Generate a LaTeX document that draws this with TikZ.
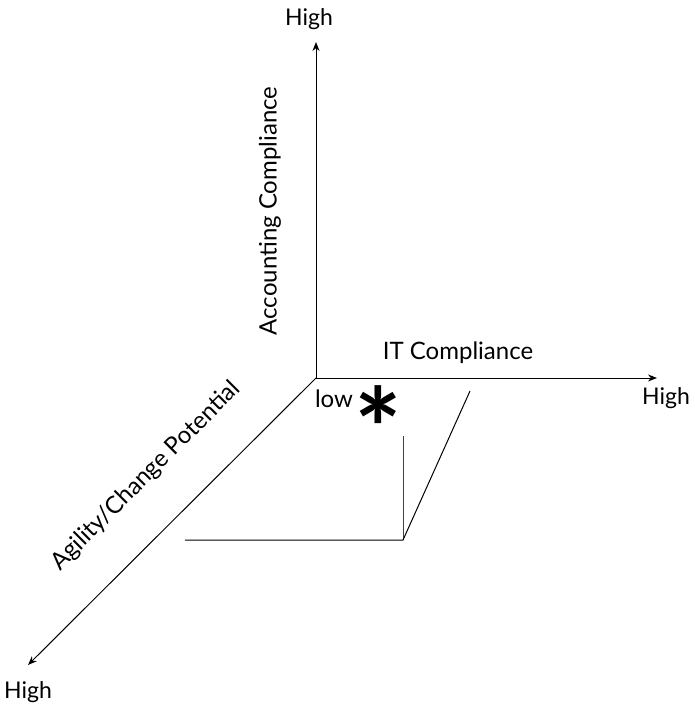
\documentclass[tikz,border=0pt]{standalone}
\usepackage{fontspec}
\setmainfont{Lato}
\usetikzlibrary{arrows.meta}
\begin{document}
\begin{tikzpicture}[x=1pt,y=-1pt,
  axis/.style={line width=1pt,-{Stealth[length=9pt,width=7pt]}},
  lbl/.style={font=\fontsize{24}{28}\selectfont,inner sep=0pt},
  endlbl/.style={font=\fontsize{23}{27}\selectfont,inner sep=0pt},
  guide/.style={line width=1pt}]
\useasboundingbox (0,0) rectangle (694,708);
\coordinate (o) at (316,378);
\coordinate (ytop) at (316,42);
\coordinate (xend) at (657,378);
\coordinate (zend) at (28,665);
\draw[axis] (o) -- (ytop);
\draw[axis] (o) -- (xend);
\draw[axis] (o) -- (zend);
\node[endlbl] (hy) at (309,19) {High};
\node[endlbl] (hx) at (666,398) {High};
\node[endlbl] (hz) at (28,692) {High};
\node[lbl,rotate=90] (acc) at (270,211) {Accounting Compliance};
\node[lbl] (itc) at (458,353) {IT Compliance};
\node[lbl,rotate=45] (agi) at (146,476) {Agility/Change Potential};
\node[lbl] (low) at (334,399) {low};
\node[inner sep=0pt,font=\fontsize{112}{112}\selectfont\bfseries] (star) at (378,428) {*};
\coordinate (p) at (403,540);
\coordinate (pt) at (403,436);
\coordinate (pl) at (185,540);
\coordinate (pd) at (470,391);
\draw[guide,black!75] (p) -- (pt);
\draw[guide] (pl) -- (p) -- (pd);
\end{tikzpicture}
\end{document}
